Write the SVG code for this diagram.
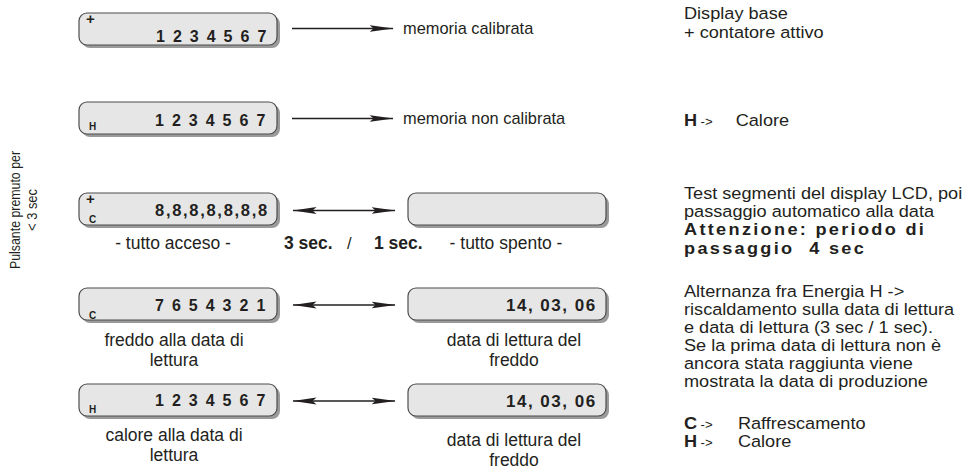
<svg xmlns="http://www.w3.org/2000/svg" width="976" height="470" viewBox="0 0 976 470">
<style>
text{font-family:"Liberation Sans",Arial,sans-serif;fill:#231f20}
.lcd{fill:#e6e6e6;stroke:#4d4d4d;stroke-width:1.2}
.sh{fill:#9a9a9a}
.dg{font-weight:bold;font-size:16px;letter-spacing:8px}
.d8{font-weight:bold;font-size:16.5px;letter-spacing:1.7px}
.dt{font-weight:bold;font-size:17px;letter-spacing:1.5px}
.sm{font-weight:bold;font-size:10px}
.pl{font-weight:bold;font-size:15px}
.m{font-size:16.4px}
.lb{font-size:17.5px;text-anchor:middle}
.sec{font-weight:bold;font-size:17.5px}
.n{font-size:16.5px}
.nb{font-size:16.5px;font-weight:bold;letter-spacing:2.1px}
.ar{font-size:12px}
.b{font-weight:bold}
.ln{stroke:#231f20;stroke-width:1.5;fill:none}
.rot{font-family:"Liberation Sans Narrow","Liberation Sans",Arial,sans-serif;font-size:14px;text-anchor:middle}
</style>
<defs>
<marker id="ah" viewBox="0 0 24 8" refX="23.5" refY="4" markerWidth="24" markerHeight="8" markerUnits="userSpaceOnUse" orient="auto-start-reverse">
<path d="M0,0.6 L24,4 L0,7.4 L4,4 Z" fill="#231f20"/>
</marker>
<symbol id="box" overflow="visible">
<rect class="sh" x="3" y="3" width="198" height="32" rx="8"/>
<rect class="lcd" x="0" y="0" width="198" height="32" rx="8"/>
</symbol>
</defs>

<g id="lcd1">
<use href="#box" x="79" y="13"/>
<text class="pl" x="86" y="24">+</text>
<text class="dg" x="156" y="42">1234567</text>
</g>
<g id="lcd2">
<use href="#box" x="79" y="102"/>
<text class="sm" x="89" y="130">H</text>
<text class="dg" x="155" y="126">1234567</text>
</g>
<g id="lcd3">
<use href="#box" x="79" y="193"/>
<text class="pl" x="86" y="204">+</text>
<text class="sm" x="89" y="223">C</text>
<text class="d8" x="155" y="216">8,8,8,8,8,8,8</text>
</g>
<g id="lcd4">
<use href="#box" x="408" y="193"/>
</g>
<g id="lcd5">
<use href="#box" x="79" y="288"/>
<text class="sm" x="89" y="319">C</text>
<text class="dg" x="155" y="311">7654321</text>
</g>
<g id="lcd6">
<use href="#box" x="408" y="288"/>
<text class="dt" x="506" y="311">14, 03, 06</text>
</g>
<g id="lcd7">
<use href="#box" x="79" y="384"/>
<text class="sm" x="89" y="413">H</text>
<text class="dg" x="155" y="406">1234567</text>
</g>
<g id="lcd8">
<use href="#box" x="408" y="384"/>
<text class="dt" x="506" y="407">14, 03, 06</text>
</g>

<g id="connectors">
<line class="ln" x1="292" y1="28.5" x2="393" y2="28.5" marker-end="url(#ah)"/>
<line class="ln" x1="292" y1="118.5" x2="393" y2="118.5" marker-end="url(#ah)"/>
<line class="ln" x1="293" y1="210.5" x2="395" y2="210.5" marker-start="url(#ah)" marker-end="url(#ah)"/>
<line class="ln" x1="293" y1="305" x2="395" y2="305" marker-start="url(#ah)" marker-end="url(#ah)"/>
<line class="ln" x1="293" y1="401" x2="395" y2="401" marker-start="url(#ah)" marker-end="url(#ah)"/>
</g>

<g id="labels">
<text class="m" x="403" y="34">memoria calibrata</text>
<text class="m" x="403" y="124">memoria non calibrata</text>
<text class="lb" x="173" y="249">- tutto acceso -</text>
<text class="sec" x="284" y="249">3 sec.</text>
<text class="m" x="347" y="249">/</text>
<text class="sec" x="374" y="249">1 sec.</text>
<text class="lb" x="506" y="249">- tutto spento -</text>
<text class="lb" x="174" y="346">freddo alla data di</text>
<text class="lb" x="174" y="366">lettura</text>
<text class="lb" x="514" y="346">data di lettura del</text>
<text class="lb" x="514" y="366">freddo</text>
<text class="lb" x="174" y="441">calore alla data di</text>
<text class="lb" x="174" y="461">lettura</text>
<text class="lb" x="514" y="446">data di lettura del</text>
<text class="lb" x="514" y="466">freddo</text>
<g transform="translate(0,210) rotate(-90)">
<text class="rot" x="0" y="20" textLength="118" lengthAdjust="spacingAndGlyphs">Pulsante premuto per</text>
<text class="rot" x="0" y="37" textLength="42" lengthAdjust="spacingAndGlyphs">&lt; 3 sec</text>
</g>
</g>

<g id="notes" transform="translate(684,0) scale(1.1,1)">
<text class="n" x="0" y="19">Display base</text>
<text class="n" x="0" y="38">+ contatore attivo</text>
<text class="n" y="126"><tspan class="b" x="0">H</tspan><tspan class="ar" x="15">-&gt;</tspan><tspan x="47">Calore</tspan></text>
<text class="n" x="0" y="199">Test segmenti del display LCD, poi</text>
<text class="n" x="0" y="217">passaggio automatico alla data</text>
<text class="nb" x="0" y="235">Attenzione: periodo di</text>
<text class="nb" x="0" y="254" xml:space="preserve">passaggio  4 sec</text>
<text class="n" x="0" y="297">Alternanza fra Energia H -&gt;</text>
<text class="n" x="0" y="315">riscaldamento sulla data di lettura</text>
<text class="n" x="0" y="333">e data di lettura (3 sec / 1 sec).</text>
<text class="n" x="0" y="351">Se la prima data di lettura non è</text>
<text class="n" x="0" y="369">ancora stata raggiunta viene</text>
<text class="n" x="0" y="387">mostrata la data di produzione</text>
<text class="n" y="429"><tspan class="b" x="0">C</tspan><tspan class="ar" x="15">-&gt;</tspan><tspan x="49">Raffrescamento</tspan></text>
<text class="n" y="447"><tspan class="b" x="0">H</tspan><tspan class="ar" x="15">-&gt;</tspan><tspan x="49">Calore</tspan></text>
</g>
</svg>
